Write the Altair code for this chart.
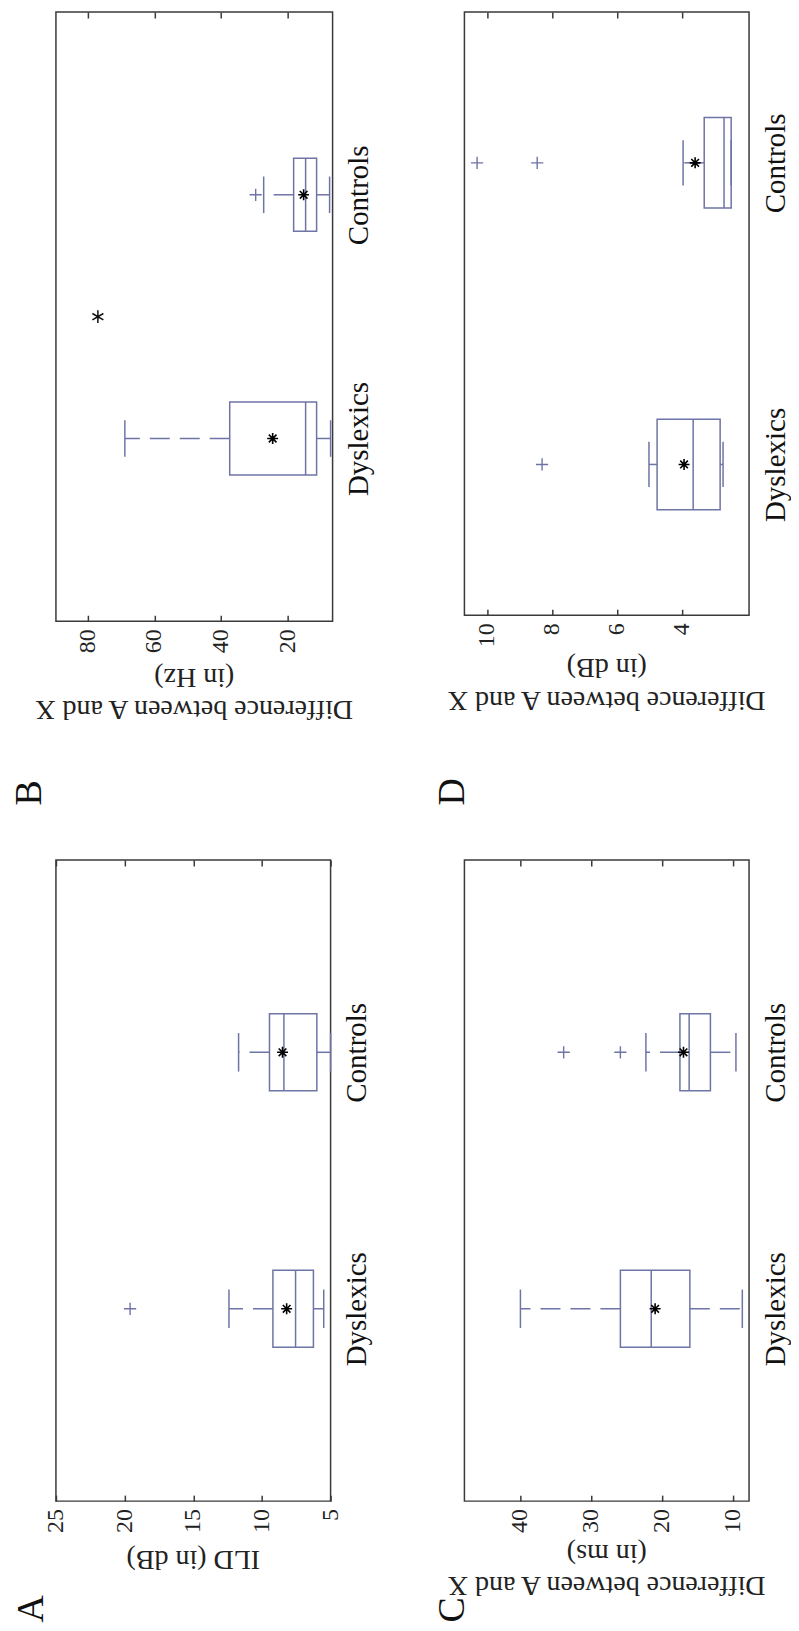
import altair as alt
import pandas as pd

FONT = "Liberation Serif"
BOX_COLOR = "#6f74a6"
FRAME_COLOR = "#3a3a3a"
TEXT_COLOR = "#222222"

groups = ["Dyslexics", "Controls"]
group_pos = [1, 2]

# Panel A: ILD (in dB)
A_lo = [5.5, 5.0]
A_q1 = [6.25, 6.0]
A_med = [7.55, 8.4]
A_q3 = [9.2, 9.45]
A_hi = [12.4, 11.7]
A_mean = [8.2, 8.5]
A_out_group = ["Dyslexics"]
A_out_value = [19.6]
A_ticks = [5, 10, 15, 20, 25]
A_title = ["ILD (in dB)"]

# Panel B: difference in Hz
B_lo = [7.1, 7.4]
B_q1 = [11.3, 11.3]
B_med = [14.6, 14.6]
B_q3 = [37.4, 18.2]
B_hi = [68.9, 27.2]
B_mean = [24.5, 15.2]
B_out_group = ["Controls"]
B_out_value = [29.6]
B_sig_value = [77.0]
B_sig_pos = [1.5]
B_ticks = [20, 40, 60, 80]
B_title = ["(in Hz)", "Difference between A and X"]

# Panel C: difference in ms
C_lo = [8.7, 9.6]
C_q1 = [16.1, 13.2]
C_med = [21.55, 16.2]
C_q3 = [25.9, 17.5]
C_hi = [40.0, 22.3]
C_mean = [21.0, 17.0]
C_out_group = ["Controls", "Controls"]
C_out_value = [33.9, 25.9]
C_ticks = [10, 20, 30, 40]
C_title = ["(in ms)", "Difference between A and X"]

# Panel D: difference in dB
D_lo = [2.74, 2.49]
D_q1 = [2.83, 2.49]
D_med = [3.66, 2.71]
D_q3 = [4.77, 3.32]
D_hi = [5.02, 3.97]
D_mean = [3.94, 3.6]
D_out_group = ["Dyslexics", "Controls", "Controls"]
D_out_value = [8.31, 8.46, 10.31]
D_ticks = [4, 6, 8, 10]
D_title = ["(in dB)", "Difference between A and X"]

ASTERISK = "M-1,0L1,0M0,-1L0,1M-0.7,-0.7L0.7,0.7M-0.7,0.7L0.7,-0.7"
STAR6 = "M0,-1L0,1M-0.87,-0.5L0.87,0.5M-0.87,0.5L0.87,-0.5"
PLUS = "M-1,0L1,0M0,-1L0,1"


def panel(letter, lo, q1, med, q3, hi, mean, out_g, out_v, xdom, ticks, title,
          ydom, w, h, title_offsets, letter_x, letter_y, sig=None):
    df = pd.DataFrame({"group": groups, "pos": group_pos, "lo": lo, "q1": q1,
                       "med": med, "q3": q3, "hi": hi, "mean": mean})
    pos_map = dict(zip(groups, group_pos))
    odf = pd.DataFrame({"group": out_g, "value": out_v,
                        "pos": [pos_map[g] for g in out_g]})
    tdf = pd.DataFrame({"tick": ticks, "label": [str(t) for t in ticks]})
    xs = alt.Scale(domain=xdom, reverse=True, nice=False, zero=False)
    ys = alt.Scale(domain=ydom, nice=False, zero=False)

    # inward ticks on the bottom and top edges of the frame
    tick_bottom = alt.Axis(orient="bottom", values=ticks, offset=-6, ticks=True,
                           tickSize=6, tickWidth=1.5, tickColor=FRAME_COLOR,
                           domain=False, grid=False, labels=False, title=None)
    tick_top = alt.Axis(orient="top", values=ticks, labels=False, domain=False,
                        grid=False, ticks=True, tickSize=6, tickWidth=1.5,
                        tickColor=FRAME_COLOR, offset=-6, title=None)
    y_axis = alt.Axis(orient="right", values=group_pos,
                      labelExpr="datum.value == 1 ? 'Dyslexics' : 'Controls'",
                      labelAngle=270, labelAlign="center", labelBaseline="top",
                      labelFontSize=29, labelFont=FONT, labelColor="#111",
                      labelPadding=12, ticks=False, domain=False, grid=False,
                      title=None)
    letter_axis = alt.Axis(orient="left", labels=False, ticks=False, domain=False,
                           grid=False, title=letter, titleAngle=270,
                           titleAlign="left", titleBaseline="alphabetic",
                           titleX=letter_x, titleY=letter_y, titleFont=FONT,
                           titleFontSize=38, titleFontWeight="normal",
                           titleColor="#111")

    base = alt.Chart(df).transform_calculate(
        y0="datum.pos - 0.15", y1="datum.pos + 0.15",
        c0="datum.pos - 0.075", c1="datum.pos + 0.075")

    box = base.mark_rect(fill="white", fillOpacity=0, stroke=BOX_COLOR,
                         strokeWidth=1.5).encode(
        x=alt.X("q1:Q", scale=xs, axis=tick_bottom), x2="q3:Q",
        y=alt.Y("y0:Q", scale=ys, axis=y_axis), y2="y1:Q")
    median = base.mark_rule(color=BOX_COLOR, strokeWidth=1.5).encode(
        x=alt.X("med:Q", scale=xs, axis=None),
        y=alt.Y("y0:Q", scale=ys, axis=None), y2="y1:Q")
    wh_hi = base.mark_rule(color=BOX_COLOR, strokeWidth=1.5,
                           strokeDash=[20, 10]).encode(
        x=alt.X("q3:Q", scale=xs, axis=tick_top), x2="hi:Q",
        y=alt.Y("pos:Q", scale=ys, axis=None))
    wh_lo = base.mark_rule(color=BOX_COLOR, strokeWidth=1.5,
                           strokeDash=[20, 10]).encode(
        x=alt.X("q1:Q", scale=xs, axis=None), x2="lo:Q",
        y=alt.Y("pos:Q", scale=ys, axis=None))
    cap_hi = base.mark_rule(color=BOX_COLOR, strokeWidth=1.5).encode(
        x=alt.X("hi:Q", scale=xs, axis=None),
        y=alt.Y("c0:Q", scale=ys, axis=None), y2="c1:Q")
    cap_lo = base.mark_rule(color=BOX_COLOR, strokeWidth=1.5).encode(
        x=alt.X("lo:Q", scale=xs, axis=None),
        y=alt.Y("c0:Q", scale=ys, axis=letter_axis), y2="c1:Q")
    mean_pt = base.mark_point(shape=ASTERISK, size=120, filled=False,
                              color="#000", strokeWidth=1.6, opacity=1).encode(
        x=alt.X("mean:Q", scale=xs, axis=None),
        y=alt.Y("pos:Q", scale=ys, axis=None))
    outl = alt.Chart(odf).mark_point(shape=PLUS, size=150, filled=False,
                                     color=BOX_COLOR, strokeWidth=1.4,
                                     opacity=1).encode(
        x=alt.X("value:Q", scale=xs, axis=None),
        y=alt.Y("pos:Q", scale=ys, axis=None))
    # tick labels, rotated like the rest of the page
    tick_labels = alt.Chart(tdf).mark_text(
        angle=270, align="right", baseline="middle", font=FONT, fontSize=24,
        color=TEXT_COLOR).encode(
        x=alt.X("tick:Q", scale=xs, axis=None), y=alt.value(h + 8),
        text="label:N")
    layers = [box, wh_hi, wh_lo, cap_hi, cap_lo, median, mean_pt, outl,
              tick_labels]
    # axis title lines (upside down)
    for line, off in zip(title, title_offsets):
        layers.append(alt.Chart(pd.DataFrame({"t": [line]})).mark_text(
            angle=180, align="center", baseline="middle", font=FONT,
            fontSize=28, color=TEXT_COLOR).encode(
            x=alt.value(w / 2), y=alt.value(h + off), text="t:N"))
    if sig is not None:
        sdf = pd.DataFrame({"value": sig[0], "pos": sig[1]})
        layers.append(alt.Chart(sdf).mark_point(
            shape=STAR6, size=160, filled=False, color="#111", strokeWidth=1.5,
            opacity=1).encode(
            x=alt.X("value:Q", scale=xs, axis=None),
            y=alt.Y("pos:Q", scale=ys, axis=None)))
    return alt.layer(*layers).resolve_axis(
        x="independent", y="independent").properties(width=w, height=h)


pB = panel("B", B_lo, B_q1, B_med, B_q3, B_hi, B_mean, B_out_group, B_out_value,
           [6.5, 89.6], B_ticks, B_title, [0.25, 2.75], 277, 610,
           [56, 88], -15, 794, sig=(B_sig_value, B_sig_pos))
pD = panel("D", D_lo, D_q1, D_med, D_q3, D_hi, D_mean, D_out_group, D_out_value,
           [1.94, 10.7], D_ticks, D_title, [0.5, 2.5], 285, 604,
           [52, 85], -1, 794)
pA = panel("A", A_lo, A_q1, A_med, A_q3, A_hi, A_mean, A_out_group, A_out_value,
           [5, 25], A_ticks, A_title, [0.25, 2.75], 275, 642,
           [58], -13, 763)
pC = panel("C", C_lo, C_q1, C_med, C_q3, C_hi, C_mean, C_out_group, C_out_value,
           [7.75, 47.9], C_ticks, C_title, [0.25, 2.75], 285, 642,
           [52, 84], -1, 763)

chart = alt.concat(pB, pD, pA, pC, columns=2,
                   spacing={"row": 52, "column": 58}).properties(
    padding={"left": 2, "top": 1, "right": 0, "bottom": 0},
    background="white"
).configure_view(stroke=FRAME_COLOR, strokeWidth=1.5)

chart.save("out.html", embed_options={"renderer": "svg", "actions": False})
